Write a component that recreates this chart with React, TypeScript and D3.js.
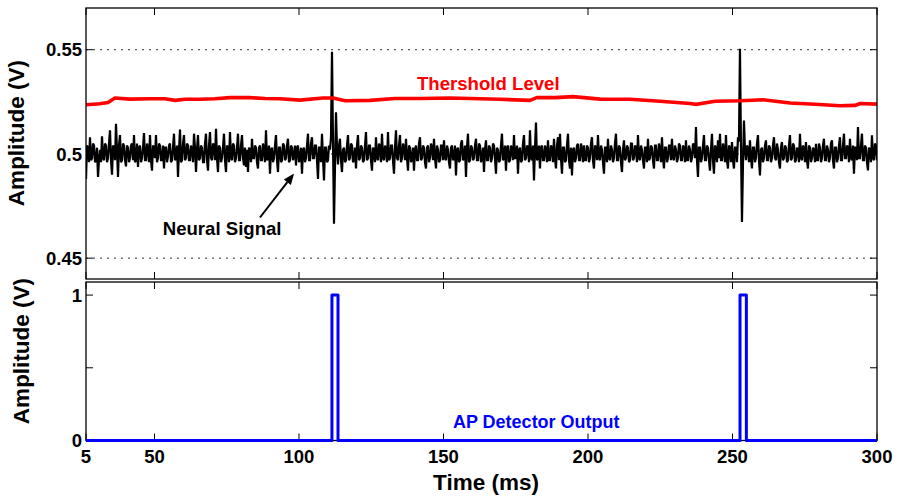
import React from "react";
import * as d3 from "d3";

// ---- data ----
const xTickValues = [26.3, 50, 100, 150, 200, 250, 300];
const xTickLabels = ["5", "50", "100", "150", "200", "250", "300"];
const topYTicks = [0.45, 0.5, 0.55];
const topYTickLabels = ["0.45", "0.5", "0.55"];
const botYTicks = [0, 0.5, 1];
const botYTickLabels = ["0", "", "1"];

// neural signal: sampled every 0.346 ms from 26.3 ms, values read as mV offset from 0.5 V
const sampleStart = 26.3;
const sampleStep = 0.346;
const baselineV = 0.5;
const neuralOffsetMv = [
  -12, 4, 3, -4, 8, -3, -2, 5, 4, -4, -3, 3, -11, -3, 2, -4, 8.5, -2, -3, 5,
  4, -4, -2, 5, 11.3, -3, -10, 4, 3, -3, 14.5, 2, -11, 4, 9, -4, -3, 5, 4, -3,
  -6, 4, 3, -4, -2, 4, 5, -3, 9, -4, -3, 5, -6.3, 3, 4, -4, -2, 3, 10, -3,
  -3, 5, 2, -4, 9, -3, -8, 4, 3, -2, 9, -4, -2, 5, 4, -3, -3, 4, -7, 3,
  3, -4, -1, 4, 5, -4, -3, 3, 9.7, -3, -2, 4, -11, 2, 11.7, -4, -3, 5, 9, -3,
  -2, 5, 4, -3, -3, 4, 2, -4, 9.7, 3, -8.7, 2, 9, -3, -2, 4, 3, -4, -4, 5,
  9.7, -3, -8, 4, 10.5, -2, -3, 5, 4, -3, 12, -2, -8.7, 4, 3, -4, -2, 3, 9.7, -3,
  -8.7, 4, 3, -4, 10.5, -2, -3, 5, 4, -4, -2, 3, 9.7, -3, -3, 4, 9, -2, -5.5, 3,
  -6.3, 2, -8.7, 3, 2, -4, 7.3, -2, -2, 4, 3, -4, -7, 3, 4, -3, -3, 5, 2, -4,
  11.3, -3, -2, 4, -9.5, 2, 3, -4, -2, 4, 9, -3, -8.7, 3, 3, -4, -3, 5, 4, -3,
  -2, 4, 7.3, -4, -3, 4, 3, -3, -1, 4, -5.5, 3, 4, -4, -2, 3, -9.5, 2, 3, -4,
  -2, 4, 9.7, -3, -3, 5, 8, -2, -2, 4, 4, -3, -12, 3, 3, -4, 9.7, -2, -12.7, 3,
  3, -4, -3, 4, 2, 8, 49, 6, -33.5, -6, 20, 3, -5, 4, 7.3, -3, -8.7, 2, 3, -4,
  -3, 4, 9, -3, -2, 5, 4, -4, -3, 3, -7, 4, 9, -3, -2, 4, 3, -4, -3, 4,
  10.5, -3, -2, 4, 4, -3, -8, 3, 2, -4, 8, -2, -3, 5, 3, -4, 9.7, -2, -3, 4,
  2, -4, 10.5, -3, -2, 4, 4, -3, -9.5, 3, 11.3, -2, -3, 4, 9, -4, -2, 5, 3, -3,
  7.3, -2, -8, 4, 3, -4, -2, 3, -8, 2, 4, -3, -3, 5, 8, -3, -2, 4, 3, -4,
  -7, 3, 4, -4, -2, 5, 3, -3, 7.3, -2, -7, 4, 2, -4, -3, 4, 4, -3, 6.5, -2,
  -3, 4, 2, -4, -7, 3, 4, -3, -2, 4, -10.3, 2, 3, -4, -3, 5, 6.5, -3, -2, 4,
  -11, 3, 9.7, -4, -3, 4, 3, -3, -2, 4, 7.3, -3, -3, 5, 4, -4, -2, 3, -8.7, 2,
  6.5, -3, -3, 4, 3, -4, -2, 5, 4, -2, -9.5, 3, 2, -4, -3, 4, 9.7, -3, -2, 4,
  -8, 3, 4, -4, -3, 4, 2, -3, 9, -2, -2, 4, -9.5, 2, 3, -4, -3, 5, 9, -3,
  -2, 4, 3, -4, 11.3, -2, -3, 4, -12.7, 3, 15, -3, -2, 4, -7, 3, 4, -3, -3, 4,
  2, -4, 6.5, -3, -3, 4, 3, -4, 7.3, -2, -7, 4, 8, -3, 9.7, -2, -9.5, 3, 3, -4,
  -3, 4, 9.7, -3, -7, 3, -10.3, 2, 3, -4, -2, 4, 4.9, -3, -3, 5, 2, -4, 4.1, -3,
  -3, 4, 3, -4, -2, 5, 8, -3, -7, 4, 3, -3, 9, -2, -3, 4, 2, -4, -9.5, 3,
  3, -4, 7.3, -2, -3, 4, 2, -4, -2, 5, 9.7, -3, -3, 4, 3, -4, -8.7, 2, 6.5, -3,
  -2, 4, 3, -4, -3, 5, 4.9, -3, -2, 4, 3, -4, 9, -2, -3, 4, 2, -3, -7, 3,
  3, -4, 7.3, -3, -2, 4, 3, -3, -7, 4, 4, -3, -3, 5, 2, -4, 8, -2, -7, 3,
  3, -4, -2, 4, 4, -3, 7.3, -2, -3, 4, 2, -4, -2, 5, 4, -3, -3, 4, 3, -4,
  6.5, -3, -3, 4, 2, -4, -2, 5, 4, -2, 12.9, -3, -11, 3, 3, -4, -2, 4, 9, -3,
  -3, 4, 3, -3, -8, 2, 9.7, -3, -9.5, 4, 3, -4, 6.5, -2, 9.7, -3, -3, 5, 2, -4,
  9, -3, -7, 4, 3, -4, 5.7, -3, -7, 3, 3, -4, 8, 6, 50.5, 4, -32.7, -5, 16, 2,
  -3, 4, 3, -4, 6.5, -2, -7, 3, 3, -4, -2, 5, 9, -3, -10.3, 2, 3, -4, -2, 4,
  6.5, -3, -3, 4, 3, -4, -2, 4, 8, -2, -3, 5, 2, -4, -7, 3, 5.7, -3, -2, 4,
  3, -4, -3, 4, 9, -3, -2, 5, 4, -4, -3, 3, 2, -4, 9.7, -2, -3, 4, 3, -4,
  5.7, -3, -7, 4, 3, -4, -2, 3, 2, -4, 4.9, -3, -3, 5, 3, -4, -2, 4, 7.3, -3,
  -3, 4, 2, -4, -2, 5, 6.5, -3, -7, 3, 3, -4, -2, 4, 8, -3, -3, 4, 9.7, -2,
  -2, 4, 3, -4, 7.3, -2, -3, 4, -9.5, 3, 3, -3, 12.9, -2, -2, 4, 9.7, -3, -3, 4,
  3, -4, -7.9, 3, 2, -4, 8.9, -2, -3, 5, 4, -3,
];

// threshold level (red)
const thresholdTimes = [
  26.3, 31.1, 33.9, 36.3, 41.5, 48.4, 53.6, 57.1, 60.6, 65.7, 70.9, 76.1, 83.0, 88.2, 93.4,
  100.3, 108.3, 111.8, 115.9, 124.6, 133.2, 141.9, 152.2, 159.2, 169.5, 179.9, 182.4, 188.6,
  194.8, 204.2, 214.5, 224.9, 235.3, 237.4, 243.9, 252.6, 260.6, 269.9, 278.6, 287.2, 292.4,
  294.1, 300,
];
const thresholdValues = [
  0.5236, 0.5241, 0.5247, 0.5268, 0.5263, 0.5265, 0.5265, 0.5257, 0.5262, 0.5262, 0.5265,
  0.527, 0.527, 0.5266, 0.5265, 0.5258, 0.5268, 0.5268, 0.5255, 0.5257, 0.5266, 0.5266,
  0.5268, 0.5266, 0.5262, 0.5257, 0.5271, 0.527, 0.5275, 0.5263, 0.5262, 0.5253, 0.5242,
  0.5238, 0.5253, 0.5255, 0.526, 0.5244, 0.5238, 0.5231, 0.5233, 0.5242, 0.5239,
];

// AP detector output (blue)
const apTimes = [26.3, 111.4, 111.4, 113.5, 113.5, 252.6, 252.6, 254.8, 254.8, 300];
const apValues = [0, 0, 1, 1, 0, 0, 1, 1, 0, 0];

// annotations (data coordinates)
const neuralLabel = { text: "Neural Signal", t: 73.4, v: 0.4609 };
const neuralArrow = { t1: 86.5, v1: 0.4695, t2: 98.3, v2: 0.4906 };
const thresholdLabel = { text: "Thershold Level", t: 165.5, v: 0.5305 };
const apLabel = { text: "AP Detector Output", t: 182.1, v: 0.084 };

// ---- layout ----
const W = 897;
const H = 497;
const left = 86;
const right = 877;
const top1 = 8;
const bot1 = 279;
const top2 = 282;
const bot2 = 440.5;
const tickLen = 7;
const FONT = "'Liberation Sans', Arial, Helvetica, sans-serif";

export default function App() {
  const x = d3.scaleLinear().domain([26.3, 300]).range([left, right]);
  const y1 = d3.scaleLinear().domain([0.44, 0.57]).range([bot1, top1]);
  const y2 = d3.scaleLinear().domain([0, 1.09]).range([bot2, top2]);

  const neural = neuralOffsetMv.map((mv, i) => ({
    t: sampleStart + i * sampleStep,
    v: baselineV + mv / 1000,
  }));
  const thr = thresholdTimes.map((t, i) => ({ t, v: thresholdValues[i] }));
  const ap = apTimes.map((t, i) => ({ t, v: apValues[i] }));

  const line1 = d3
    .line<{ t: number; v: number }>()
    .x((d) => x(d.t))
    .y((d) => y1(d.v));
  const line2 = d3
    .line<{ t: number; v: number }>()
    .x((d) => x(d.t))
    .y((d) => y2(d.v));

  const ax1 = x(neuralArrow.t1);
  const ay1 = y1(neuralArrow.v1);
  const ax2 = x(neuralArrow.t2);
  const ay2 = y1(neuralArrow.v2);
  const ang = Math.atan2(ay2 - ay1, ax2 - ax1);
  const hl = 11;
  const hw = 4.5;
  const bx = ax2 - hl * Math.cos(ang);
  const by = ay2 - hl * Math.sin(ang);
  const head = [
    [ax2, ay2],
    [bx + hw * Math.sin(ang), by - hw * Math.cos(ang)],
    [bx - hw * Math.sin(ang), by + hw * Math.cos(ang)],
  ]
    .map((p) => p.join(","))
    .join(" ");

  const xTicksFor = (yTop: number, yBot: number, key: string) =>
    xTickValues.map((t, i) => (
      <g key={key + i}>
        <line x1={x(t)} x2={x(t)} y1={yTop} y2={yTop + tickLen} stroke="#000" strokeWidth={1} />
        <line x1={x(t)} x2={x(t)} y1={yBot} y2={yBot - tickLen} stroke="#000" strokeWidth={1} />
      </g>
    ));

  return (
    <svg
      width={W}
      height={H}
      style={{ position: "absolute", left: 0, top: 0, background: "#fff" }}
      fontFamily={FONT}
      fontWeight="bold"
    >
      <rect x={0} y={0} width={W} height={H} fill="#fff" />
      <defs>
        <clipPath id="clip1">
          <rect x={left} y={top1} width={right - left} height={bot1 - top1} />
        </clipPath>
        <clipPath id="clip2">
          <rect x={left} y={top2 - 2} width={right - left + 1} height={bot2 - top2 + 4} />
        </clipPath>
      </defs>

      {/* ---- top panel ---- */}
      {topYTicks.map((v, i) => (
        <line
          key={"g" + i}
          x1={left}
          x2={right}
          y1={y1(v)}
          y2={y1(v)}
          stroke="#333"
          strokeWidth={1}
          strokeDasharray="2,5"
        />
      ))}
      <g clipPath="url(#clip1)">
        <path
          d={line1(neural) || ""}
          fill="none"
          stroke="#000"
          strokeWidth={2.2}
          strokeLinejoin="miter"
          strokeMiterlimit={3}
        />
        <path d={line1(thr) || ""} fill="none" stroke="#ff0000" strokeWidth={3.6} />
      </g>
      {topYTicks.map((v, i) => (
        <g key={"yt1" + i}>
          <line x1={left} x2={left + tickLen} y1={y1(v)} y2={y1(v)} stroke="#000" />
          <line x1={right} x2={right - tickLen} y1={y1(v)} y2={y1(v)} stroke="#000" />
          <text x={82} y={y1(v)} dy="0.36em" textAnchor="end" fontSize={18.5} fill="#000">
            {topYTickLabels[i]}
          </text>
        </g>
      ))}
      {xTicksFor(top1, bot1, "xt1")}
      <rect
        x={left}
        y={top1}
        width={right - left}
        height={bot1 - top1}
        fill="none"
        stroke="#000"
        strokeWidth={1.3}
      />
      <text
        x={x(thresholdLabel.t)}
        y={y1(thresholdLabel.v)}
        textAnchor="middle"
        fontSize={18.6}
        fill="#ff0000"
      >
        {thresholdLabel.text}
      </text>
      <text
        x={x(neuralLabel.t)}
        y={y1(neuralLabel.v)}
        textAnchor="middle"
        fontSize={18.6}
        fill="#000"
      >
        {neuralLabel.text}
      </text>
      <line x1={ax1} y1={ay1} x2={bx} y2={by} stroke="#000" strokeWidth={2} />
      <polygon points={head} fill="#000" />
      <text
        transform={`translate(24,133) rotate(-90)`}
        textAnchor="middle"
        fontSize={22.5}
        fill="#000"
      >
        Amplitude (V)
      </text>

      {/* ---- bottom panel ---- */}
      {botYTicks.map((v, i) => (
        <g key={"yt2" + i}>
          <line x1={left} x2={left + tickLen} y1={y2(v)} y2={y2(v)} stroke="#000" />
          <line x1={right} x2={right - tickLen} y1={y2(v)} y2={y2(v)} stroke="#000" />
          <text x={82} y={y2(v)} dy="0.36em" textAnchor="end" fontSize={18.5} fill="#000">
            {botYTickLabels[i]}
          </text>
        </g>
      ))}
      {xTicksFor(top2, bot2, "xt2")}
      <rect
        x={left}
        y={top2}
        width={right - left}
        height={bot2 - top2}
        fill="none"
        stroke="#000"
        strokeWidth={1.3}
      />
      <g clipPath="url(#clip2)">
        <path
          d={line2(ap) || ""}
          fill="none"
          stroke="#0000ff"
          strokeWidth={3}
          strokeLinejoin="round"
        />
      </g>
      {xTickValues.map((t, i) => (
        <text key={"xl" + i} x={x(t)} y={463} textAnchor="middle" fontSize={18.5} fill="#000">
          {xTickLabels[i]}
        </text>
      ))}
      <text
        x={x(apLabel.t)}
        y={y2(apLabel.v)}
        textAnchor="middle"
        fontSize={18}
        fill="#0000ff"
      >
        {apLabel.text}
      </text>
      <text
        transform={`translate(29,351) rotate(-90)`}
        textAnchor="middle"
        fontSize={22.5}
        fill="#000"
      >
        Amplitude (V)
      </text>
      <text x={486} y={490} textAnchor="middle" fontSize={22.5} fill="#000">
        Time (ms)
      </text>
    </svg>
  );
}
